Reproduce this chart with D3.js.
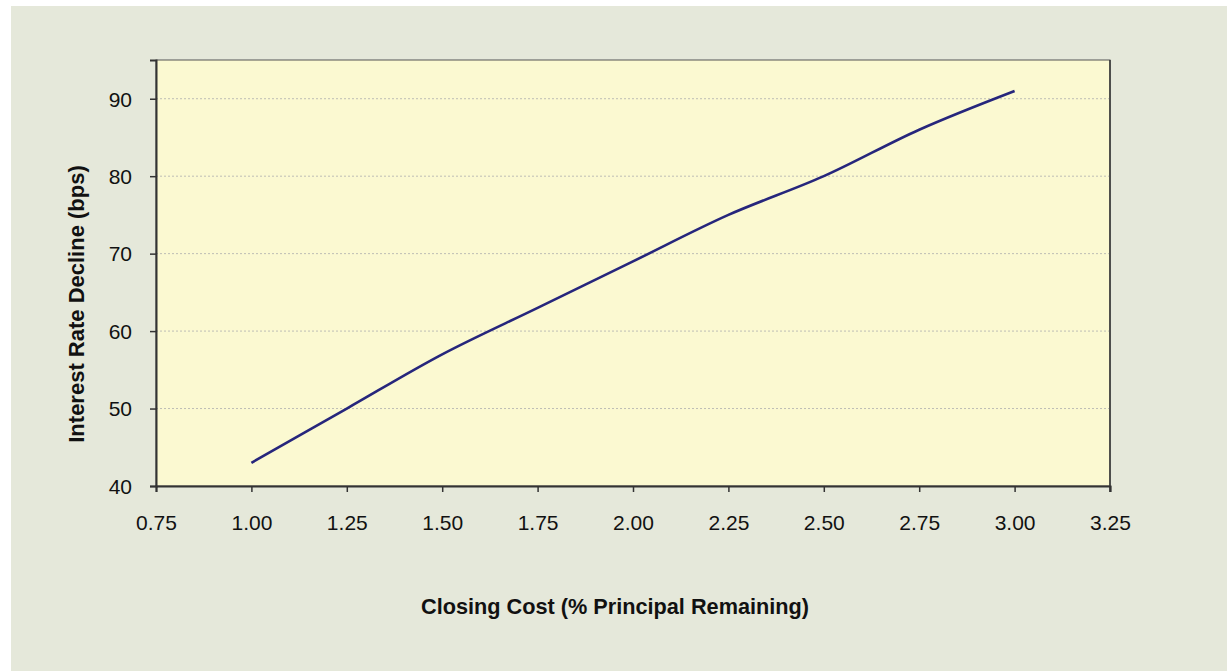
<!DOCTYPE html>
<html>
<head>
<meta charset="utf-8">
<script src="https://cdn.jsdelivr.net/npm/d3@7"></script>
<style>
  body { margin: 0; background: #ffffff; }
  svg { display: block; font-family: "Liberation Sans", Arial, sans-serif; }
</style>
</head>
<body>
<svg id="chart"></svg>
<script>
// closing cost (% of principal remaining) vs. interest rate decline (bps)
const closingCost = [1.00, 1.25, 1.50, 1.75, 2.00, 2.25, 2.50, 2.75, 3.00];
const rateDecline = [43, 50, 57, 63, 69, 75, 80, 86, 91];
const xTicks = [0.75, 1.00, 1.25, 1.50, 1.75, 2.00, 2.25, 2.50, 2.75, 3.00, 3.25];
const yTicks = [40, 50, 60, 70, 80, 90];

const width = 1227, height = 671;
const margin = { top: 60, right: 117, bottom: 185, left: 156 };
const innerW = width - margin.left - margin.right;
const innerH = height - margin.top - margin.bottom;

const svg = d3.select('#chart')
    .attr('width', width)
    .attr('height', height);

// outer chart area
svg.append('rect')
    .attr('x', 11).attr('y', 6)
    .attr('width', width - 11).attr('height', height - 6)
    .attr('fill', '#e5e8da');

const chart = svg.append('g')
    .attr('transform', `translate(${margin.left},${margin.top})`);

const x = d3.scaleLinear().domain([0.75, 3.25]).range([0, innerW]);
const y = d3.scaleLinear().domain([40, 95]).range([innerH, 0]);

// plot area
chart.append('rect')
    .attr('width', innerW).attr('height', innerH)
    .attr('fill', '#fbf9d1')
    .attr('stroke', '#555555')
    .attr('stroke-width', 1);

// gridlines
chart.append('g')
    .selectAll('line')
    .data(yTicks.filter(d => d > 40))
    .join('line')
    .attr('x1', 0).attr('x2', innerW)
    .attr('y1', d => y(d)).attr('y2', d => y(d))
    .attr('stroke', '#bdbdb5')
    .attr('stroke-width', 1)
    .attr('stroke-dasharray', '2,2');

const xAxis = chart.append('g')
    .attr('transform', `translate(0,${innerH})`)
    .call(d3.axisBottom(x).tickValues(xTicks).tickFormat(d3.format('.2f')).tickSizeOuter(0).tickSize(6));

const yAxis = chart.append('g')
    .call(d3.axisLeft(y).tickValues(yTicks).tickSizeOuter(0).tickSize(6));

[xAxis, yAxis].forEach(a => {
    a.select('.domain').attr('stroke', '#333333').attr('stroke-width', 2);
    a.selectAll('.tick line').attr('stroke', '#333333').attr('stroke-width', 1.5);
    a.selectAll('.tick text')
        .attr('fill', '#111111')
        .style('font-size', '21px')
        .style('font-family', '"Liberation Sans", Arial, sans-serif');
});
xAxis.selectAll('.tick text').attr('dy', null).attr('y', 44);
yAxis.selectAll('.tick text').attr('x', -24).attr('dy', '0.35em');

// right frame line reaching down to the last tick
chart.append('line')
    .attr('x1', innerW).attr('x2', innerW)
    .attr('y1', 0).attr('y2', innerH + 6)
    .attr('stroke', '#333333').attr('stroke-width', 1.5);

const line = d3.line()
    .x((d, i) => x(closingCost[i]))
    .y(d => y(d))
    .curve(d3.curveCatmullRom.alpha(0.5));

chart.append('path')
    .datum(rateDecline)
    .attr('d', line)
    .attr('fill', 'none')
    .attr('stroke', '#26267c')
    .attr('stroke-width', 2.6)
    .attr('stroke-linejoin', 'round');

// axis titles
svg.append('text')
    .attr('x', 615).attr('y', 614)
    .attr('text-anchor', 'middle')
    .style('font-size', '21.7px')
    .style('font-weight', 'bold')
    .attr('fill', '#111111')
    .text('Closing Cost (% Principal Remaining)');

svg.append('text')
    .attr('transform', 'translate(84,304) rotate(-90)')
    .attr('text-anchor', 'middle')
    .style('font-size', '22px')
    .style('font-weight', 'bold')
    .attr('fill', '#111111')
    .text('Interest Rate Decline (bps)');
</script>
</body>
</html>
